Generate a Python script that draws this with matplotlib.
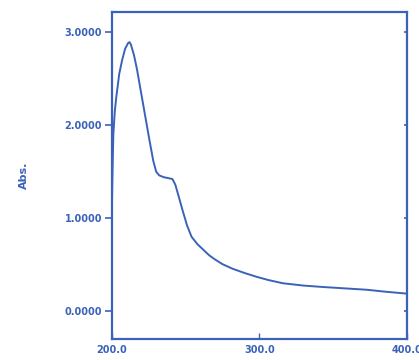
import matplotlib
matplotlib.use("Agg")
import matplotlib.pyplot as plt

# UV-Vis spectrum
wavelength = [200, 200.5, 201, 202, 203, 205, 207, 209, 211, 212, 213, 215, 217,
              219, 222, 225, 228, 230, 232, 235, 238, 241, 243, 245, 248, 251,
              254, 258, 262, 266, 270, 275, 282, 290, 298, 306, 316, 330, 343,
              358, 373, 385, 399]
absorbance = [1.10, 1.55, 1.90, 2.15, 2.30, 2.55, 2.70, 2.82, 2.88, 2.89, 2.86,
              2.75, 2.60, 2.42, 2.15, 1.88, 1.62, 1.50, 1.46, 1.44, 1.43, 1.42,
              1.36, 1.25, 1.08, 0.92, 0.80, 0.72, 0.66, 0.60, 0.555, 0.505, 0.455,
              0.41, 0.37, 0.335, 0.30, 0.275, 0.26, 0.245, 0.23, 0.21, 0.19]

x_ticks = [200, 300, 400]
y_ticks = [0, 1, 2, 3]

blue = "#3b62b8"

fig = plt.figure(figsize=(4.19, 3.60), dpi=100)
ax = fig.add_axes([0.267, 0.058, 0.704, 0.909])
ax.plot(wavelength, absorbance, color=blue, lw=1.4)

ax.set_xlim(200, 400)
ax.set_ylim(-0.30, 3.215)
ax.set_xticks(x_ticks)
ax.set_xticklabels([f"{v:.1f}" for v in x_ticks])
ax.set_yticks(y_ticks)
ax.set_yticklabels([f"{v:.4f}" for v in y_ticks])

for s in ax.spines.values():
    s.set_color(blue)
    s.set_linewidth(1.6)

ax.tick_params(axis="y", direction="out", length=5, width=1.2, colors=blue,
               labelsize=7, pad=2, right=True, labelright=False)
# small inward ticks on the right spine
for t in ax.yaxis.get_major_ticks():
    t.tick2line.set_marker(0)
    t.tick2line.set_markersize(2.5)
ax.tick_params(axis="x", direction="in", length=4, width=1.0, colors=blue,
               labelsize=7, pad=4)
for lab in ax.get_xticklabels() + ax.get_yticklabels():
    lab.set_fontweight("bold")

ax.set_ylabel("Abs.", color=blue, fontsize=8, fontweight="bold", labelpad=26)

fig.savefig("out.png", dpi=100)
plt.close(fig)
